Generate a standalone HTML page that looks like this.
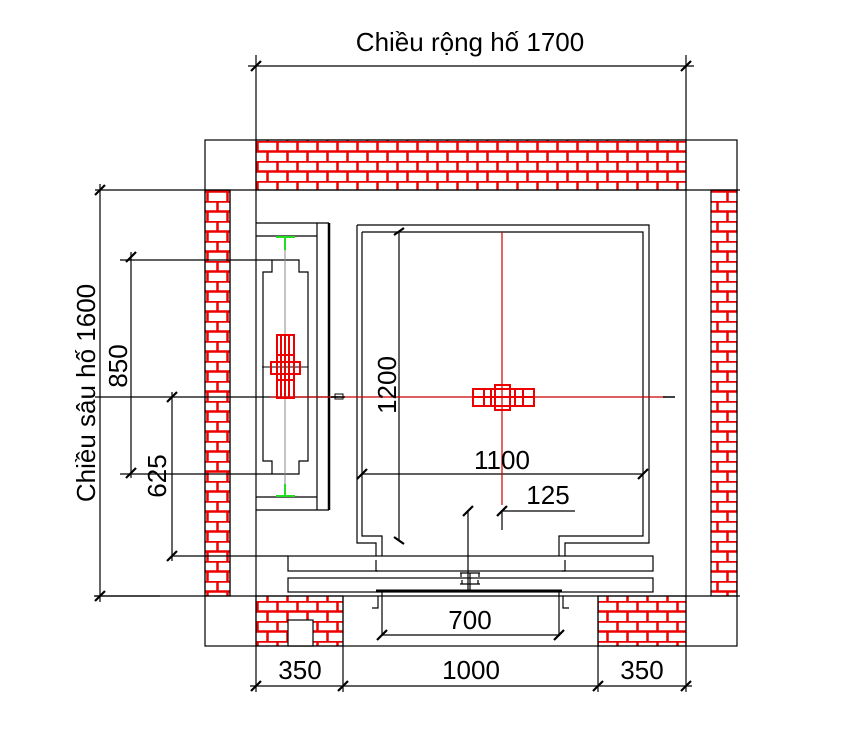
<!DOCTYPE html>
<html><head><meta charset="utf-8"><style>body{margin:0;background:#fff}svg{display:block}text{font-family:"Liberation Sans",sans-serif;fill:#000}</style></head><body>
<svg width="849" height="734" viewBox="0 0 849 734" xmlns="http://www.w3.org/2000/svg">
<defs>
<pattern id="b" width="20" height="20" patternUnits="userSpaceOnUse" x="256" y="141">
<rect width="20" height="20" fill="#fff"/>
<path d="M0 0.5H20M0 10.5H20M1.5 0V10M11.5 10V20" stroke="#e00" stroke-width="2.5" fill="none"/>
</pattern>
</defs>
<g fill="url(#b)" stroke="#000" stroke-width="1.2">
<rect x="256" y="140" width="430" height="50"/>
<rect x="205" y="190" width="25" height="406"/>
<rect x="711" y="190" width="26" height="406"/>
<rect x="256" y="596" width="87" height="50"/>
<rect x="598" y="596" width="88" height="50"/>
</g>
<g fill="none" stroke="#000" stroke-width="1.2">
<rect x="288" y="620" width="25" height="26" fill="#fff"/>
<rect x="205" y="140" width="532" height="506"/>
<path d="M95 190H740M95 596H740M256 55V692M686 55V692M343 596V692M598 596V692M230 190V596"/>
<path d="M256 223H329M256 236H317M317 223V510M256 497H317M256 510H329"/>
<path d="M329 223V510" stroke-width="2.5"/>
<path d="M272 260H299V272H308V461H299V474H272V461H263V272H272Z"/>
<path d="M120 260H272M120 474H272"/>
<path d="M357 225H649V543H565V556M357 225V543H376V556"/>
<path d="M362 232H643V536H559V556M362 232V536H382V556"/>
<path d="M399 232V540"/>
<rect x="288" y="556" width="365" height="15"/>
<rect x="288" y="578" width="365" height="14"/>
<path d="M376 591H562" stroke-width="3"/>
<path d="M382 592V636M559 592V636M382 635H559"/>
<path d="M378 596V608H372M563 596V608H569"/>
<path d="M376 560V571H378M565 560V571H562"/>
<path d="M468 512V592M502 512V530M502 511H575"/>
<path d="M460 573H480M461 577V573M479 577V573M460 584H480M470 573V592M462 580V584M478 580V584"/>
<path d="M362 474H643"/>
<path d="M248 66H694M100 184V602M131 252V478M172 392V561M95 397H338M250 686H692"/>
<path d="M94 596H160M172 556H288"/>
</g>
<g stroke="#000" stroke-width="2.2">
<path d="M251 71L261 61M681 71L691 61M95 195L105 185M95 601L105 591M126 262L136 252M126 478L136 468M167 402L177 392M167 561L177 551M251 691L261 681M338 691L348 681M593 691L603 681M681 691L691 681M377 640L387 630M554 640L564 630M463 516L473 506M497 516L507 506M394 235L404 228M394 537L404 544M357 479L367 469M638 479L648 469"/>
</g>
<path d="M502 232V505M270 397H665" stroke="#c00" stroke-width="1.2"/>
<path d="M285 236V497" stroke="#888" stroke-width="1"/>
<path d="M262 367H308" stroke="#000" stroke-width="1"/>
<g stroke="#e00" stroke-width="2" fill="none">
<rect x="277" y="335" width="17" height="63"/>
<rect x="271" y="362" width="29" height="12"/>
<path d="M281 335V398M285 335V398M289 335V398M277 355H294M277 380H294"/>
<rect x="473" y="389" width="61" height="17"/>
<rect x="495" y="385" width="15" height="25"/>
<path d="M473 397H534M484 389V406M491 389V406M515 389V406M523 389V406"/>
</g>
<g stroke="#2d2" stroke-width="2" fill="none">
<path d="M276 237H295M285 237V250M276 496H295M285 496V484"/>
</g>
<path d="M331 397H345M663 397H675" stroke="#000" stroke-width="1.5"/>
<rect x="335" y="394" width="8" height="5" fill="none" stroke="#000"/>
<g font-size="26" text-anchor="middle">
<text x="470" y="51">Chiều rộng hố 1700</text>
<text transform="translate(95 393) rotate(-90)">Chiều sâu hố 1600</text>
<text transform="translate(127 366) rotate(-90)">850</text>
<text transform="translate(166 476) rotate(-90)">625</text>
<text transform="translate(396 385) rotate(-90)">1200</text>
<text x="502" y="469">1100</text>
<text x="548" y="504">125</text>
<text x="470" y="629">700</text>
<text x="300" y="679">350</text>
<text x="471" y="679">1000</text>
<text x="642" y="679">350</text>
</g>
</svg>
</body></html>
